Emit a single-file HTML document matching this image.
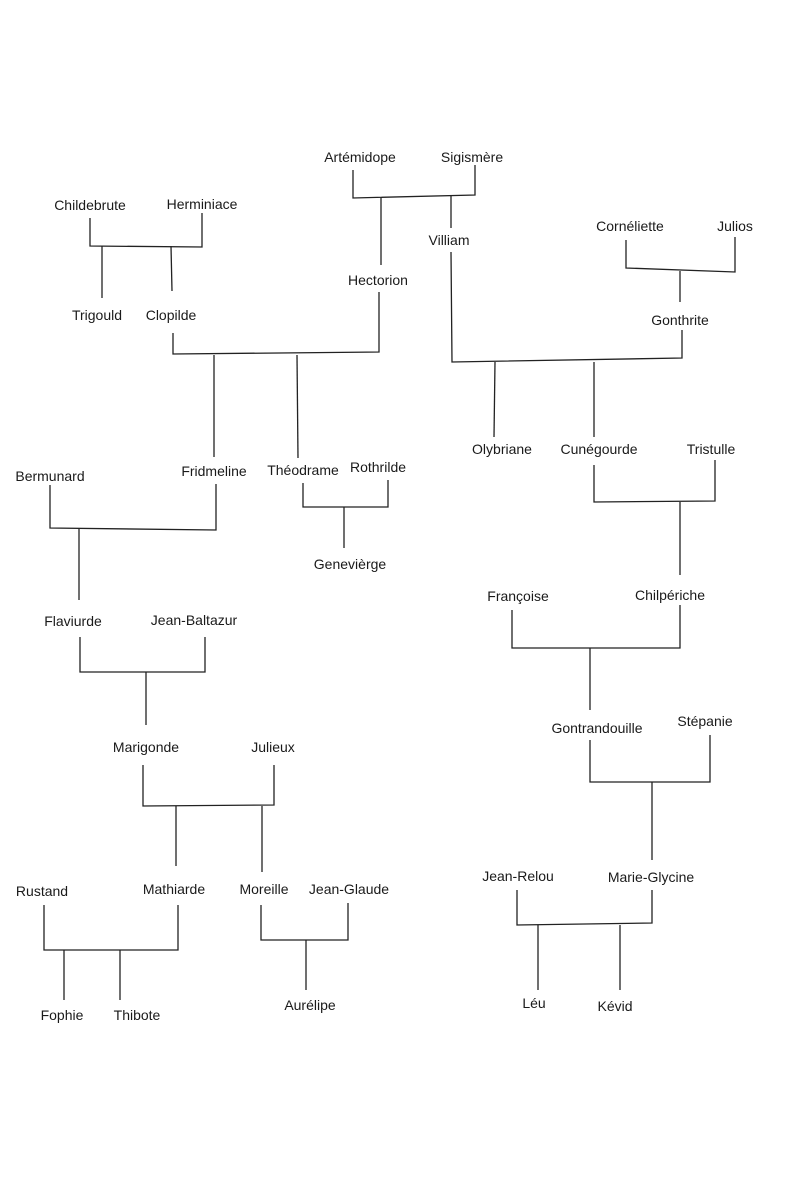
<!DOCTYPE html>
<html><head><meta charset="utf-8"><style>
html,body{margin:0;padding:0;background:#fff;}
svg{display:block}
text{font-family:"Liberation Sans Narrow","Liberation Sans",sans-serif;font-size:14px;fill:#1a1a1a;text-anchor:middle}
</style></head><body>
<svg width="800" height="1179" viewBox="0 0 800 1179" xmlns="http://www.w3.org/2000/svg">
<g stroke="#222" stroke-width="1.3" fill="none">
<!-- Artémidope + Sigismère -->
<polyline points="353,170 353,198 475,195 475,165"/>
<line x1="381" y1="197" x2="381" y2="265"/>
<line x1="451" y1="196" x2="451" y2="228"/>
<!-- Childebrute + Herminiace -->
<polyline points="90,218 90,246 202,247 202,213"/>
<line x1="102" y1="246" x2="102" y2="298"/>
<line x1="171" y1="246" x2="172" y2="291"/>
<!-- Clopilde + Hectorion -->
<polyline points="173,333 173,354 379,352 379,292"/>
<line x1="214" y1="355" x2="214" y2="457"/>
<line x1="297" y1="355" x2="298" y2="458"/>
<!-- Théodrame + Rothrilde -->
<polyline points="303,483 303,507 388,507 388,480"/>
<line x1="344" y1="507" x2="344" y2="548"/>
<!-- Bermunard + Fridmeline -->
<polyline points="50,485 50,528 216,530 216,484"/>
<line x1="79" y1="529" x2="79" y2="600"/>
<!-- Flaviurde + Jean-Baltazur -->
<polyline points="80,637 80,672 205,672 205,637"/>
<line x1="146" y1="672" x2="146" y2="725"/>
<!-- Marigonde + Julieux -->
<polyline points="143,765 143,806 274,805 274,765"/>
<line x1="176" y1="806" x2="176" y2="866"/>
<line x1="262" y1="806" x2="262" y2="872"/>
<!-- Rustand + Mathiarde -->
<polyline points="44,905 44,950 178,950 178,905"/>
<line x1="64" y1="950" x2="64" y2="1000"/>
<line x1="120" y1="950" x2="120" y2="1000"/>
<!-- Moreille + Jean-Glaude -->
<polyline points="261,905 261,940 348,940 348,903"/>
<line x1="306" y1="940" x2="306" y2="990"/>
<!-- Cornéliette + Julios -->
<polyline points="626,240 626,268 735,272 735,237"/>
<line x1="680" y1="271" x2="680" y2="302"/>
<!-- Villiam + Gonthrite -->
<polyline points="451,252 452,362 682,358 682,330"/>
<line x1="495" y1="362" x2="494" y2="437"/>
<line x1="594" y1="362" x2="594" y2="437"/>
<!-- Cunégourde + Tristulle -->
<polyline points="594,465 594,502 715,501 715,460"/>
<line x1="680" y1="502" x2="680" y2="575"/>
<!-- Françoise + Chilpériche -->
<polyline points="512,610 512,648 680,648 680,605"/>
<line x1="590" y1="648" x2="590" y2="710"/>
<!-- Gontrandouille + Stépanie -->
<polyline points="590,740 590,782 710,782 710,735"/>
<line x1="652" y1="782" x2="652" y2="860"/>
<!-- Jean-Relou + Marie-Glycine -->
<polyline points="517,890 517,925 652,923 652,890"/>
<line x1="538" y1="925" x2="538" y2="990"/>
<line x1="620" y1="925" x2="620" y2="990"/>
</g>
<g>
<text x="360" y="162">Artémidope</text>
<text x="472" y="162">Sigismère</text>
<text x="90" y="210" font-size="13">Childebrute</text>
<text x="202" y="209" font-size="13">Herminiace</text>
<text x="378" y="285" font-size="13">Hectorion</text>
<text x="449" y="245" font-size="13">Villiam</text>
<text x="97" y="320" font-size="13">Trigould</text>
<text x="171" y="320" font-size="13">Clopilde</text>
<text x="214" y="476" font-size="13">Fridmeline</text>
<text x="303" y="475" font-size="13">Théodrame</text>
<text x="378" y="472">Rothrilde</text>
<text x="350" y="569" font-size="13">Genevièrge</text>
<text x="50" y="481" font-size="12">Bermunard</text>
<text x="73" y="626" font-size="13">Flaviurde</text>
<text x="194" y="625">Jean-Baltazur</text>
<text x="146" y="752">Marigonde</text>
<text x="273" y="752">Julieux</text>
<text x="42" y="896" font-size="13">Rustand</text>
<text x="174" y="894">Mathiarde</text>
<text x="264" y="894" font-size="13">Moreille</text>
<text x="349" y="894" font-size="13">Jean-Glaude</text>
<text x="62" y="1020" font-size="13">Fophie</text>
<text x="137" y="1020" font-size="13">Thibote</text>
<text x="310" y="1010" font-size="13">Aurélipe</text>
<text x="630" y="231" font-size="13">Cornéliette</text>
<text x="735" y="231" font-size="13">Julios</text>
<text x="680" y="325" font-size="13">Gonthrite</text>
<text x="502" y="454" font-size="13">Olybriane</text>
<text x="599" y="454" font-size="13">Cunégourde</text>
<text x="711" y="454" font-size="13">Tristulle</text>
<text x="518" y="601" font-size="13">Françoise</text>
<text x="670" y="600">Chilpériche</text>
<text x="597" y="733">Gontrandouille</text>
<text x="705" y="726">Stépanie</text>
<text x="518" y="881" font-size="13">Jean-Relou</text>
<text x="651" y="882" font-size="13">Marie-Glycine</text>
<text x="534" y="1008">Léu</text>
<text x="615" y="1011">Kévid</text>
</g>
</svg>
</body></html>
